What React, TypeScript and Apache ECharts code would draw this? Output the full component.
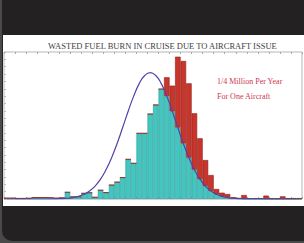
import React, { useEffect, useRef } from 'react';
import * as echarts from 'echarts';

const TITLE = 'WASTED FUEL BURN IN CRUISE DUE TO AIRCRAFT ISSUE';
const NOTE_LINES = ['1/4 Million Per Year', 'For One Aircraft'];

// histogram bin counts (relative heights), 54 bins
const counts = [
  0.6, 0.6, 0.4, 0.4, 0.5, 1.0, 1.0, 1.0, 0.9, 0.6,
  0.8, 4.6, 1.5, 1.6, 3.9, 4.3, 1.2, 6.0, 4.4, 9.5,
  11.5, 14.6, 27.0, 24.3, 44.7, 44.7, 57.8, 64.0, 74.8, 82.8,
  77.1, 96.8, 93.9, 78.7, 58.3, 41.3, 26.5, 16.3, 6.8, 4.3,
  3.4, 1.2, 0.6, 2.7, 0.5, 0.5, 0.5, 2.3, 0.5, 0.5,
  1.8, 0.6, 0.6, 0.6,
];

// fitted distribution curve read at each bin centre
const fitted = [
  0, 0, 0, 0, 0, 0, 0, 0, 0, 0.1,
  0.3, 0.5, 1.0, 1.8, 3.2, 5.4, 8.8, 13.5, 20.0, 28.1,
  37.8, 48.6, 59.7, 70.0, 78.5, 84.0, 86.0, 84.0, 78.5, 70.0,
  59.7, 48.6, 37.8, 28.1, 20.0, 13.5, 8.8, 5.4, 3.2, 1.8,
  1.0, 0.5, 0.3, 0.1, 0.1, 0.1, 0.1, 0, 0, 0,
  0, 0, 0, 0,
];

const bins = counts.map((_, i) => String(i + 1));

export default function App() {
  const ref = useRef<HTMLDivElement>(null);
  useEffect(() => {
    if (!ref.current) return;
    const chart = echarts.init(ref.current, null, { renderer: 'svg' });
    let peak = 0;
    fitted.forEach((v, i) => { if (v > fitted[peak]) peak = i; });
    const cyan = counts.map((c, i) => (i <= peak ? c : Math.min(c, fitted[i])));
    const red = counts.map((c, i) => +(c - cyan[i]).toFixed(2));
    const serif = '"Liberation Serif", "DejaVu Serif", serif';
    chart.setOption({
      animation: false,
      title: {
        text: TITLE,
        left: 40,
        top: 1,
        textStyle: { fontFamily: serif, fontSize: 8.5, color: '#3e3e3e', fontWeight: 'normal' },
      },
      graphic: NOTE_LINES.map((t, i) => ({
        type: 'text',
        left: 214,
        top: 42 + i * 15,
        style: { text: t, fill: '#cf3550', font: `8px ${serif}` },
      })),
      grid: {
        left: 1, right: 2, top: 17, bottom: 7,
        show: true, borderColor: '#b5b5b5', borderWidth: 1,
      },
      xAxis: [
        {
          type: 'category', data: bins, boundaryGap: true,
          axisLine: { show: false },
          axisTick: { show: true, inside: true, interval: 1, length: 2, lineStyle: { color: '#aaa' } },
          axisLabel: { show: false },
        },
        {
          type: 'category', data: bins, position: 'top', boundaryGap: true,
          axisLine: { show: false },
          axisTick: { show: true, inside: true, interval: 1, length: 2, lineStyle: { color: '#aaa' } },
          axisLabel: { show: false },
        },
      ],
      yAxis: {
        type: 'value', min: 0, max: 100, interval: 5,
        axisLine: { show: false },
        axisTick: { show: true, inside: true, length: 2, lineStyle: { color: '#bbb' } },
        axisLabel: { show: false },
        splitLine: { show: false },
      },
      series: [
        {
          type: 'bar', stack: 'h', data: cyan, barCategoryGap: '0%',
          itemStyle: { color: '#45c5c0', borderColor: '#2f9e99', borderWidth: 0.6 },
        },
        {
          type: 'bar', stack: 'h', data: red, barCategoryGap: '0%',
          itemStyle: { color: '#c9352b', borderColor: '#8c1e19', borderWidth: 0.6 },
        },
        {
          type: 'line', data: fitted, smooth: true, showSymbol: false, symbol: 'none', z: 5,
          lineStyle: { color: '#5441a6', width: 1.2 },
        },
      ],
    });
    return () => chart.dispose();
  }, []);
  return (
    <div style={{ position: 'fixed', left: 0, top: 0, width: 304, height: 243, background: '#4a4a4a', overflow: 'hidden' }}>
      <div style={{ position: 'absolute', left: 2, top: -12, width: 314, height: 253, background: '#232121', borderRadius: 10 }} />
      <div style={{ position: 'absolute', left: 3, top: 35, width: 301, height: 171, background: '#ffffff' }}>
        <div ref={ref} style={{ width: 301, height: 171 }} />
      </div>
    </div>
  );
}
